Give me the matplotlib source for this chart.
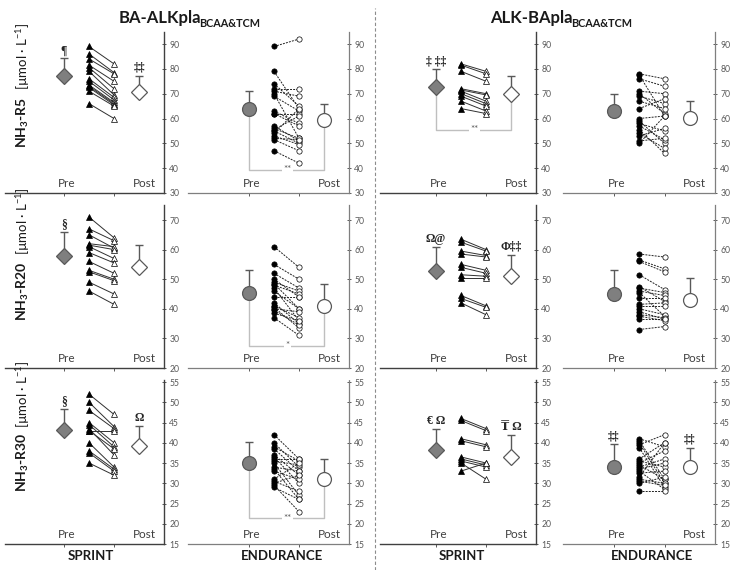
import matplotlib
matplotlib.use('Agg')
import matplotlib.pyplot as plt
from matplotlib.lines import Line2D

plt.rcParams['font.family'] = ['Lato', 'DejaVu Sans']
plt.rcParams['mathtext.fontset'] = 'custom'
plt.rcParams['mathtext.rm'] = 'Lato'
plt.rcParams['mathtext.bf'] = 'Lato:bold'
plt.rcParams['mathtext.it'] = 'Lato:italic'

# ---------------- data ----------------
group_titles = ["BA-ALKpla", "ALK-BApla"]
group_subscript = "BCAA&TCM"
col_labels = ["SPRINT", "ENDURANCE", "SPRINT", "ENDURANCE"]
row_names = ["R5", "R20", "R30"]
x_labels = ["Pre", "Post"]
row_ticks = [[30, 40, 50, 60, 70, 80, 90], [20, 30, 40, 50, 60, 70], [15, 20, 25, 30, 35, 40, 45, 50, 55]]

# R5
ba_sprint_r5_pre = [89, 86, 84, 81.5, 80.5, 79, 76, 75, 73.5, 73, 72.5, 71, 66]
ba_sprint_r5_post = [82, 78.5, 78, 75, 72, 69.5, 68.5, 67.5, 66.5, 66, 65.5, 65, 60]
ba_sprint_r5_mean = [77.2, 70.7]
ba_sprint_r5_sd = [7.0, 6.5]
ba_sprint_r5_notes = ["¶", "‡‡"]

ba_endur_r5_pre = [89, 79, 74, 72, 71, 70, 69, 63, 62, 62, 57, 56, 55.5, 55, 54, 53, 52, 51.5, 47]
ba_endur_r5_post = [92, 64, 65, 72, 69, 52, 63, 58, 62, 57, 51, 52, 61, 50, 64, 49.5, 51.5, 47, 42]
ba_endur_r5_mean = [64.0, 59.3]
ba_endur_r5_sd = [7.2, 6.7]
ba_endur_r5_notes = ["", ""]

alk_sprint_r5_pre = [82, 81.5, 79, 72, 71.5, 71, 70, 69, 67, 64]
alk_sprint_r5_post = [79, 78, 75, 70, 69.5, 67, 66, 65, 63, 62]
alk_sprint_r5_mean = [72.7, 70.0]
alk_sprint_r5_sd = [7.2, 7.0]
alk_sprint_r5_notes = ["‡ ‡‡", ""]

alk_endur_r5_pre = [78, 77.5, 76, 71, 70, 69, 67, 64, 60, 59, 58, 57, 55.5, 54, 53, 51, 50]
alk_endur_r5_post = [76, 61, 73, 70, 62, 66, 64, 68, 61, 50, 55, 51.5, 46, 48, 56, 52, 61]
alk_endur_r5_mean = [62.9, 60.2]
alk_endur_r5_sd = [7.0, 6.7]
alk_endur_r5_notes = ["", ""]

# R20
ba_sprint_r20_pre = [71, 67, 65, 62, 61.5, 61, 59, 56, 53, 52.5, 49, 46]
ba_sprint_r20_post = [64, 63, 60.5, 61, 60, 57, 55.5, 52, 50, 49.5, 45, 41.5]
ba_sprint_r20_mean = [58.0, 54.0]
ba_sprint_r20_sd = [7.8, 7.4]
ba_sprint_r20_notes = ["§", ""]

ba_endur_r20_pre = [61, 55, 52, 50, 49, 48.5, 48, 47, 46, 44, 42, 41, 40.5, 40, 39.5, 38.5, 37]
ba_endur_r20_post = [54, 50, 47, 44, 46, 40, 45, 36, 40, 44, 35, 37, 33.5, 39, 34.5, 36, 31]
ba_endur_r20_mean = [45.4, 40.8]
ba_endur_r20_sd = [7.7, 7.7]
ba_endur_r20_notes = ["", ""]

alk_sprint_r20_pre = [63.5, 62.5, 59.5, 58.5, 55, 54, 51.5, 50.5, 44.5, 43.5, 42]
alk_sprint_r20_post = [60, 59.5, 58, 57.5, 53, 52, 51, 50.5, 41, 40.5, 38]
alk_sprint_r20_mean = [52.9, 51.0]
alk_sprint_r20_sd = [8.0, 7.3]
alk_sprint_r20_notes = ["Ω@", "Φ‡‡"]

alk_endur_r20_pre = [58.5, 56.5, 56, 51.5, 47.5, 47, 46, 45.5, 43.5, 41.5, 41, 40, 39, 38, 37.5, 36.5, 33]
alk_endur_r20_post = [57.5, 53.5, 52.5, 46.5, 42.5, 45.5, 44.5, 37.5, 43.5, 42, 41, 38, 36.5, 37, 36, 36.5, 34]
alk_endur_r20_mean = [45.1, 43.1]
alk_endur_r20_sd = [7.9, 7.3]
alk_endur_r20_notes = ["", ""]

# R30
ba_sprint_r30_pre = [52, 50, 48, 45, 44.5, 43.5, 43, 43, 40, 38, 37.5, 35]
ba_sprint_r30_post = [47, 44, 43.5, 40, 39, 37, 43, 38.5, 34, 33.5, 33, 32]
ba_sprint_r30_mean = [43.1, 39.1]
ba_sprint_r30_sd = [5.3, 5.0]
ba_sprint_r30_notes = ["§", "Ω"]

ba_endur_r30_pre = [42, 40, 39, 38.5, 37, 36.5, 36, 35.5, 35, 34, 33.5, 33, 31, 30.5, 30, 29.5, 29]
ba_endur_r30_post = [36, 34, 35.5, 33, 32, 30, 36, 34.5, 27, 33, 26, 31, 35, 28, 32, 23, 26]
ba_endur_r30_mean = [35.0, 31.0]
ba_endur_r30_sd = [5.3, 5.1]
ba_endur_r30_notes = ["", ""]

alk_sprint_r30_pre = [46, 45.5, 41, 40.5, 36.5, 36, 35.5, 35, 33]
alk_sprint_r30_post = [43.5, 43, 39.5, 39, 35, 34.5, 34, 31, 35]
alk_sprint_r30_mean = [38.2, 36.5]
alk_sprint_r30_sd = [5.3, 5.4]
alk_sprint_r30_notes = ["€ Ω", "₸ Ω"]

alk_endur_r30_pre = [41, 40.5, 40, 39.5, 38.8, 36, 35.5, 35, 34.5, 34, 33.5, 33, 32.5, 31.5, 31, 30.5, 30, 28]
alk_endur_r30_post = [39, 31, 30, 42, 29, 40, 34, 38, 31, 36, 35, 28.5, 33, 40, 30, 29.5, 31.5, 28]
alk_endur_r30_mean = [34.1, 33.9]
alk_endur_r30_sd = [5.5, 4.9]
alk_endur_r30_notes = ["‡‡", "‡‡"]

# significance brackets: (row, col, level, label)
brackets = [(0, 1, 39.3, "**"), (0, 2, 55.5, "**"), (1, 1, 27.5, "*"), (2, 1, 21.3, "**")]

# ---------------- layout ----------------
W, H = 743, 570
fig = plt.figure(figsize=(W / 100, H / 100), dpi=100)

cols = [(5, 64, 164), (188, 249, 349), (380, 436, 536), (563, 614, 715)]   # left, pre-mean x, right (px)
rows = [(31.6, 193, 30, 95), (205.2, 368, 20, 75), (379.6, 544, 15, 55.6)]  # top, bottom (px), ylim
label_split = [(97, 90), (262, 255), (433, 428)]

panels = [
    [(ba_sprint_r5_pre, ba_sprint_r5_post, ba_sprint_r5_mean, ba_sprint_r5_sd, ba_sprint_r5_notes),
     (ba_endur_r5_pre, ba_endur_r5_post, ba_endur_r5_mean, ba_endur_r5_sd, ba_endur_r5_notes),
     (alk_sprint_r5_pre, alk_sprint_r5_post, alk_sprint_r5_mean, alk_sprint_r5_sd, alk_sprint_r5_notes),
     (alk_endur_r5_pre, alk_endur_r5_post, alk_endur_r5_mean, alk_endur_r5_sd, alk_endur_r5_notes)],
    [(ba_sprint_r20_pre, ba_sprint_r20_post, ba_sprint_r20_mean, ba_sprint_r20_sd, ba_sprint_r20_notes),
     (ba_endur_r20_pre, ba_endur_r20_post, ba_endur_r20_mean, ba_endur_r20_sd, ba_endur_r20_notes),
     (alk_sprint_r20_pre, alk_sprint_r20_post, alk_sprint_r20_mean, alk_sprint_r20_sd, alk_sprint_r20_notes),
     (alk_endur_r20_pre, alk_endur_r20_post, alk_endur_r20_mean, alk_endur_r20_sd, alk_endur_r20_notes)],
    [(ba_sprint_r30_pre, ba_sprint_r30_post, ba_sprint_r30_mean, ba_sprint_r30_sd, ba_sprint_r30_notes),
     (ba_endur_r30_pre, ba_endur_r30_post, ba_endur_r30_mean, ba_endur_r30_sd, ba_endur_r30_notes),
     (alk_sprint_r30_pre, alk_sprint_r30_post, alk_sprint_r30_mean, alk_sprint_r30_sd, alk_sprint_r30_notes),
     (alk_endur_r30_pre, alk_endur_r30_post, alk_endur_r30_mean, alk_endur_r30_sd, alk_endur_r30_notes)],
]

DARK = '#595959'
axes = {}
for r, (top, bottom, ylo, yhi) in enumerate(rows):
    for c, (left, m, right) in enumerate(cols):
        pre, post, mean, sd, notes = panels[r][c]
        sprint = (c % 2 == 0)
        ax = fig.add_axes([left / W, 1 - bottom / H, (right - left) / W, (bottom - top) / H])
        axes[(r, c)] = ax
        s = (right - m) / 4
        ax.set_xlim(1 - (m - left) / s, 5)
        ax.set_ylim(ylo, yhi)
        ax.patch.set_alpha(0)
        ax.spines['left'].set_visible(False)
        ax.spines['top'].set_visible(False)
        for sp in ['right', 'bottom']:
            if sprint:
                ax.spines[sp].set_color('#404040')
                ax.spines[sp].set_linewidth(1.0)
            else:
                ax.spines[sp].set_color('#7f7f7f')
                ax.spines[sp].set_linewidth(0.9)
                ax.spines[sp].set_linestyle((0, (1, 1)))
        ax.yaxis.tick_right()
        ax.set_yticks(row_ticks[r])
        ax.tick_params(axis='y', direction='inout', length=3.5, width=0.7, color=DARK,
                       labelsize=6.2, labelcolor=DARK, pad=2)
        ax.set_xticks([1, 3])
        ax.set_xticklabels(['', ''])
        ax.tick_params(axis='x', direction='out', length=2.5, width=0.7, color=DARK)

        # individual lines
        ls = '-' if sprint else (0, (2, 1.2))
        lc = '#303030' if sprint else '#202020'
        for a, b in zip(pre, post):
            ax.plot([2, 3], [a, b], color=lc, lw=0.7, ls=ls, zorder=2)
        mk = '^' if sprint else 'o'
        ax.plot([2] * len(pre), pre, ls='none', marker=mk, ms=3.8, mfc='black', mec='black', mew=0.5, zorder=3)
        ax.plot([3] * len(post), post, ls='none', marker=mk, ms=3.8, mfc='white', mec='black', mew=0.5, zorder=3)

        # means with upward SD
        mm = 'D' if sprint else 'o'
        msz = 8.5 if sprint else 10
        for xi, mv, sv, fc in [(1, mean[0], sd[0], '#7f7f7f'), (4, mean[1], sd[1], 'white')]:
            ax.errorbar([xi], [mv], yerr=[[0], [sv]], fmt='none', ecolor=DARK, elinewidth=1.0,
                        capsize=3, capthick=1.0, zorder=4)
            ax.plot([xi], [mv], marker=mm, ms=msz, mfc=fc, mec=DARK, mew=0.9, ls='none', zorder=5)
        for xi, mv, sv, note in [(1, mean[0], sd[0], notes[0]), (4, mean[1], sd[1], notes[1])]:
            if note:
                ax.annotate(note, xy=(xi, mv + sv), xytext=(0, 1.5), textcoords='offset points',
                            ha='center', va='bottom', fontsize=8.5, fontweight='bold',
                            family=['Liberation Serif', 'DejaVu Serif', 'DejaVu Sans'], color='#262626')

        # Pre / Post labels
        for xi, lab in [(1.1, x_labels[0]), (4.2, x_labels[1])]:
            ax.annotate(lab, xy=(xi, 0), xycoords=('data', 'axes fraction'), xytext=(0, 3),
                        textcoords='offset points', ha='center', va='bottom', fontsize=8.5, color='#404040')

for (r, c, lvl, lab) in brackets:
    ax = axes[(r, c)]
    mean = panels[r][c][2]
    ax.plot([1, 1, 4, 4], [mean[0], lvl, lvl, mean[1]], color='#bfbfbf', lw=1.0, zorder=1)
    ax.text(2.55, lvl, lab, ha='center', va='center', fontsize=7, color=DARK, zorder=2,
            bbox=dict(boxstyle='square,pad=0.15', fc='white', ec='none'))

# y labels
for r, (top_bold, bot_unit) in enumerate(label_split):
    fig.text(23 / W, 1 - top_bold / H, "NH$_\\mathbf{3}$-" + row_names[r], rotation=90,
             ha='center', va='top', fontsize=10, fontweight='bold', color='#1a1a1a')
    fig.text(23 / W, 1 - bot_unit / H, "[µmol · L$^{-1}$]", rotation=90,
             ha='center', va='bottom', fontsize=9.5, color='#1a1a1a')

# titles (main part + smaller subscript), centred as a whole
renderer = fig.canvas.get_renderer()
for cx, title in zip([190, 562], group_titles):
    t1 = fig.text(0, 1 - 23 / H, title, ha='left', va='baseline', fontsize=12,
                  fontweight='bold', color='#1a1a1a')
    t2 = fig.text(0, 1 - 27 / H, group_subscript, ha='left', va='baseline', fontsize=7.8,
                  fontweight='bold', color='#1a1a1a')
    w1 = t1.get_window_extent(renderer).width
    w2 = t2.get_window_extent(renderer).width
    x0 = cx - (w1 + w2) / 2
    t1.set_x(x0 / W)
    t2.set_x((x0 + w1 - 1.5) / W)

# bottom labels
for x, lab in zip([91, 282, 462, 652], col_labels):
    fig.text(x / W, 1 - 556 / H, lab, ha='center', va='center', fontsize=9.5, fontweight='bold', color='#1a1a1a')

# divider
fig.add_artist(Line2D([375 / W, 375 / W], [0, 1 - 8 / H], transform=fig.transFigure,
                      color='#8c8c8c', lw=0.8, ls=(0, (3, 2))))

fig.savefig('out.png', dpi=100)
